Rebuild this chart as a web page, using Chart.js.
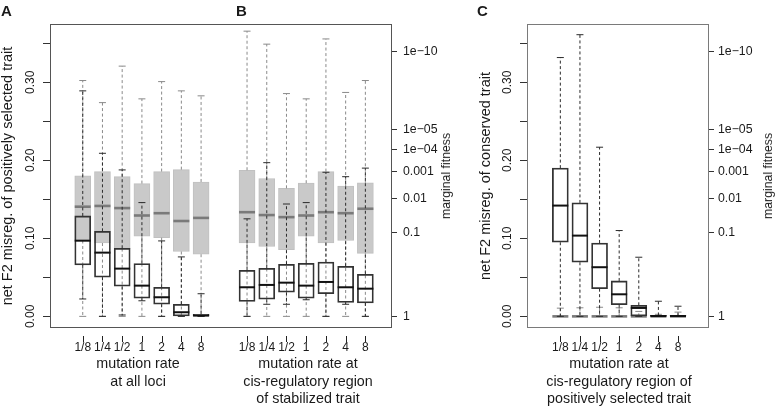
<!DOCTYPE html>
<html><head><meta charset="utf-8">
<script src="https://cdn.jsdelivr.net/npm/chart.js@4.4.1/dist/chart.umd.min.js"></script>
<style>
html,body{margin:0;padding:0;background:#fff;}
#wrap{position:relative;width:775px;height:409px;overflow:hidden;font-family:"Liberation Sans",Arial,Helvetica,sans-serif;color:#1a1a1a;}
canvas{position:absolute;top:0;}
.lbl{position:absolute;white-space:nowrap;}
.panel{font-weight:bold;font-size:15px;line-height:15px;}
.xt{font-size:14.3px;line-height:17.5px;text-align:center;width:240px;}
.rt{font-size:12.3px;line-height:14px;transform:translate(-50%,-50%) rotate(-90deg);}
</style></head>
<body><div id="wrap">
<canvas id="c1" width="470" height="409" style="left:0"></canvas>
<canvas id="c2" width="305" height="409" style="left:470px"></canvas>
<div class="lbl panel" style="left:1px;top:3px">A</div>
<div class="lbl panel" style="left:236px;top:3px">B</div>
<div class="lbl panel" style="left:477px;top:3px">C</div>
<div class="lbl xt" style="left:18px;top:355px">mutation rate<br>at all loci</div>
<div class="lbl xt" style="left:188px;top:355px">mutation rate at<br>cis-regulatory region<br>of stabilized trait</div>
<div class="lbl xt" style="left:499px;top:355px">mutation rate at<br>cis-regulatory region of<br>positively selected trait</div>
<div class="lbl rt" style="left:446px;top:176px">marginal fitness</div>
<div class="lbl rt" style="left:768px;top:176px">marginal fitness</div>
</div>
<script>
// ---------- data ----------
const categories = ['1/8','1/4','1/2','1','2','4','8'];

// left axis ticks (net F2 misregulation)
const misregTicks = [0, 0.05, 0.10, 0.15, 0.20, 0.25, 0.30, 0.35];
const misregTickLabels = ['0.00','','0.10','','0.20','','0.30',''];
// right axis ticks (marginal fitness)
const fitnessTicks = [1, 0.1, 0.01, 0.001, 1e-4, 1e-5, 1e-10];
const fitnessTickLabels = ['1','0.1','0.01','0.001','1e\u221204','1e\u221205','1e\u221210'];

// Panel A: mutation rate at all loci — net F2 misregulation (white boxes)
const aMisLow  = [0.0223, 0.000, 0.0018, 0.020, 0.000, 0.000, 0.000];
const aMisQ1   = [0.0659, 0.0501, 0.0386, 0.0232, 0.0155, 0.000, 0.000];
const aMisMed  = [0.0970, 0.0817, 0.0612, 0.0394, 0.0245, 0.0053, 0.0010];
const aMisQ3   = [0.1287, 0.1090, 0.0873, 0.0676, 0.0373, 0.0155, 0.0027];
const aMisHigh = [0.289, 0.209, 0.1877, 0.1458, 0.0967, 0.0762, 0.029];
// Panel A — marginal fitness (grey boxes)
const aFitMin = [1.1e-8, 2.9e-7, 1.1e-9, 1.7e-7, 1.3e-8, 5.3e-8, 1.1e-7];
const aFitQ1  = [0.0015, 0.0010, 0.0016, 0.0030, 0.0010, 0.00083, 0.0026];
const aFitMed = [0.019, 0.018, 0.021, 0.035, 0.030, 0.050, 0.041];
const aFitQ3  = [0.15, 0.17, 0.22, 0.12, 0.13, 0.25, 0.28];
const aFitMax = [1, 1, 1, 1, 1, 1, 1];

// Panel B: cis-regulatory region of stabilized trait
const bMisLow  = [0.000, 0.0155, 0.0155, 0.0213, 0.000, 0.0155, 0.000];
const bMisQ1   = [0.0193, 0.0220, 0.0309, 0.0232, 0.0291, 0.0180, 0.0172];
const bMisMed  = [0.0373, 0.0403, 0.0432, 0.0394, 0.0441, 0.0373, 0.0355];
const bMisQ3   = [0.0590, 0.0617, 0.0668, 0.0680, 0.0697, 0.0642, 0.0540];
const bMisHigh = [0.125, 0.197, 0.144, 0.1458, 0.1847, 0.179, 0.190];
const bFitMin = [2.3e-12, 2.5e-11, 7.9e-8, 1.7e-7, 9.7e-12, 6.7e-8, 1.1e-8];
const bFitQ1  = [0.00088, 0.0019, 0.0045, 0.0029, 0.0010, 0.0037, 0.0028];
const bFitMed = [0.028, 0.034, 0.039, 0.035, 0.028, 0.030, 0.022];
const bFitQ3  = [0.17, 0.20, 0.23, 0.12, 0.17, 0.15, 0.27];
const bFitMax = [1, 1, 1, 1, 1, 1, 1];

// Panel C: cis-regulatory region of positively selected trait (conserved trait)
const cMisLow  = [0, 0, 0, 0, 0, 0, 0];
const cMisQ1   = [0.095, 0.0694, 0.0355, 0.015, 0.000, 0.000, 0.000];
const cMisMed  = [0.142, 0.1035, 0.063, 0.0283, 0.0108, 0.0005, 0.0005];
const cMisQ3   = [0.190, 0.1454, 0.094, 0.0454, 0.0142, 0.0012, 0.0012];
const cMisHigh = [0.3317, 0.361, 0.2168, 0.110, 0.0758, 0.0194, 0.013];
const cFitMin = [0.978, 0.976, 0.973, 0.976, 0.992, 0.9986, 0.994];
const cFitQ1  = [1, 1, 1, 1, 1, 1, 1];
const cFitMed = [1, 1, 1, 1, 1, 1, 1];
const cFitQ3  = [1, 1, 1, 1, 1, 1, 1];
const cFitMax = [1, 1, 1, 1, 1, 1, 1];

// ---------- axis transform & layout constants ----------
const K = 0.01148;               // squared misregulation per decade of fitness
const fitPos = f => Math.sqrt(Math.max(0, -K * Math.log10(f)));
const Y_MIN = -0.0149, Y_MAX = 0.3747;
const B_OFFSET = 8.33;
const TICK_GAP = 8, TICK_LEN = 6;
const FONT = '"Liberation Sans", Arial, Helvetica, sans-serif';
Chart.defaults.font.family = FONT;
Chart.defaults.color = '#1a1a1a';

const misStyle = {fill:'rgba(0,0,0,0)', border:'#333', bw:1.1, whisker:'#2b2b2b', median:'#111', mw:2};
const fitStyle = {fill:'#c9c9c9', border:'#c0c0c0', bw:1, whisker:'#8a8a8a', median:'#7a7a7a', mw:2.6};

function misSet(lo,q1,md,q3,hi){ return {low:lo,q1:q1,med:md,q3:q3,high:hi}; }
function fitSet(fmin,fq1,fmed,fq3,fmax){
  return {low:fmax.map(fitPos), q1:fq3.map(fitPos), med:fmed.map(fitPos), q3:fq1.map(fitPos), high:fmin.map(fitPos)};
}

function boxplotSets(xs, s, st, ob){
  const wdata = [];
  xs.forEach((x,i)=>{ wdata.push({x,y:s.q3[i]},{x,y:s.high[i]},{x,y:null},{x,y:s.q1[i]},{x,y:s.low[i]},{x,y:null}); });
  return [
    {type:'bar', data: xs.map((x,i)=>({x, y:[s.q1[i], s.q3[i]]})), backgroundColor: st.fill, borderColor: st.border,
     borderWidth: st.bw, borderSkipped:false, barThickness:16, grouped:false, order: ob+3},
    {type:'line', data: wdata, borderColor: st.whisker, borderWidth:1, borderDash:[3,2.5], pointRadius:0,
     spanGaps:false, fill:false, tension:0, order: ob+2},
    {type:'scatter', data: xs.flatMap((x,i)=>[{x,y:s.low[i]},{x,y:s.high[i]}]), pointStyle:'line', pointRadius:3.5,
     borderColor: st.whisker, pointBorderColor: st.whisker, pointBorderWidth:1, order: ob+1},
    {type:'scatter', data: xs.map((x,i)=>({x,y:s.med[i]})), pointStyle:'line', pointRadius:8,
     borderColor: st.median, pointBorderColor: st.median, pointBorderWidth: st.mw, order: ob}
  ];
}

// frame box around the plotting region + detached x tick marks (R style)
const framePlugin = {
  id:'frame',
  afterDraw(chart){
    const {ctx, chartArea:a} = chart;
    const col = chart.options.plugins.frame.color;
    ctx.save();
    ctx.lineWidth = 1;
    ctx.strokeStyle = col;
    ctx.strokeRect(Math.round(a.left)+0.5, Math.round(a.top)+0.5, Math.round(a.right-a.left)-1, Math.round(a.bottom-a.top)-1);
    const xs = chart.scales.x;
    ctx.strokeStyle = '#222';
    const y0 = Math.round(a.bottom) + TICK_GAP, y1 = y0 + TICK_LEN;
    for (let i = 0; i < xs.ticks.length; i++) {
      const px = Math.round(xs.getPixelForTick(i)) + 0.5;
      ctx.beginPath();
      ctx.moveTo(px, y0);
      ctx.lineTo(px, y1);
      ctx.stroke();
    }
    ctx.restore();
  }
};

function makeChart(id, datasets, xPos, xLabels, xMin, xMax, dims){
  return new Chart(document.getElementById(id), {
    type:'bar',
    data:{datasets},
    plugins:[framePlugin],
    options:{
      responsive:false, animation:false, events:[], devicePixelRatio:1,
      layout:{padding:{top:24,left:0,right:0,bottom:0}},
      plugins:{legend:{display:false}, tooltip:{enabled:false}, frame:{color:dims.frame}},
      scales:{
        x:{type:'linear', position:'bottom', min:xMin, max:xMax, offset:false,
           afterBuildTicks: s => { s.ticks = xPos.map(v=>({value:v})); },
           afterFit: s => { s.height = dims.xH; },
           grid:{display:false, offset:false, drawOnChartArea:false, drawTicks:false},
           border:{display:false},
           ticks:{autoSkip:false, minRotation:0, maxRotation:0, padding:12, font:{size:12}, color:'#1a1a1a', callback:(v,i)=>xLabels[i]}},
        y:{type:'linear', position:'left', min:Y_MIN, max:Y_MAX,
           afterBuildTicks: s => { s.ticks = misregTicks.map(v=>({value:v})); },
           afterFit: s => { s.width = dims.yW; },
           grid:{display:true, drawOnChartArea:false, drawTicks:true, tickLength:7, tickColor:'#333', tickWidth:1},
           border:{display:false},
           ticks:{autoSkip:false, minRotation:90, maxRotation:90, crossAlign:'center', padding:1, font:{size:12}, color:'#1a1a1a',
                  callback:(v,i)=>misregTickLabels[i]},
           title:{display:true, text:dims.yTitle, font:{size:14.5, lineHeight:1.13}, color:'#1a1a1a', padding:{top:dims.yTitlePad,bottom:0}}},
        y2:{type:'linear', position:'right', min:Y_MIN, max:Y_MAX,
           afterBuildTicks: s => { s.ticks = fitnessTicks.map(f=>({value:fitPos(f)})); },
           afterFit: s => { s.width = dims.y2W; },
           grid:{display:true, drawOnChartArea:false, drawTicks:true, tickLength:5, tickColor:'#333', tickWidth:1},
           border:{display:false},
           ticks:{autoSkip:false, padding:dims.rPad, font:{size:12.3}, color:'#1a1a1a', callback:(v,i)=>fitnessTickLabels[i]}}
      }
    }
  });
}

const posA = categories.map((_,i)=>i+1);
const posB = categories.map((_,i)=>i+1+B_OFFSET);
const posC = categories.map((_,i)=>i+1);

const ds1 = [
  ...boxplotSets(posA, misSet(aMisLow,aMisQ1,aMisMed,aMisQ3,aMisHigh), misStyle, 10),
  ...boxplotSets(posB, misSet(bMisLow,bMisQ1,bMisMed,bMisQ3,bMisHigh), misStyle, 10),
  ...boxplotSets(posA, fitSet(aFitMin,aFitQ1,aFitMed,aFitQ3,aFitMax), fitStyle, 20),
  ...boxplotSets(posB, fitSet(bFitMin,bFitQ1,bFitMed,bFitQ3,bFitMax), fitStyle, 20)
];
const ds2 = [
  ...boxplotSets(posC, misSet(cMisLow,cMisQ1,cMisMed,cMisQ3,cMisHigh), misStyle, 10),
  ...boxplotSets(posC, fitSet(cFitMin,cFitQ1,cFitMed,cFitQ3,cFitMax), fitStyle, 20)
];

makeChart('c1', ds1, posA.concat(posB), categories.concat(categories), -0.66, 16.68,
  {xH:81, yW:50, y2W:78, rPad:6, yTitle:'net F2 misreg. of positively selected trait', yTitlePad:0, frame:'#555'});
makeChart('c2', ds2, posC, categories, -0.7, 8.58,
  {xH:81, yW:57, y2W:66, rPad:4, yTitle:'net F2 misreg. of conserved trait', yTitlePad:7.8, frame:'#7a7a7a'});
</script>
</body></html>
